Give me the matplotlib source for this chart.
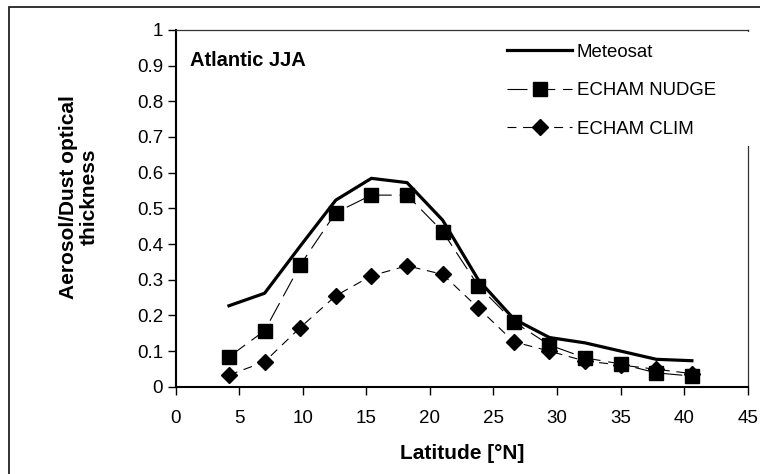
import matplotlib.pyplot as plt
from matplotlib.patches import Rectangle
from matplotlib.ticker import FormatStrFormatter, MultipleLocator

plt.rcParams['font.family'] = ['Liberation Sans', 'DejaVu Sans']

# latitude of the grid points (deg N)
lat = [4.2, 7.0, 9.8, 12.6, 15.4, 18.2, 21.0, 23.8, 26.6, 29.4, 32.2, 35.0, 37.8, 40.6]

meteosat = [0.227, 0.262, 0.394, 0.523, 0.584, 0.572, 0.467, 0.300, 0.190,
            0.138, 0.123, 0.100, 0.077, 0.073]
echam_nudge = [0.084, 0.157, 0.341, 0.488, 0.537, 0.537, 0.435, 0.283, 0.182,
               0.117, 0.081, 0.064, 0.039, 0.030]
echam_clim = [0.033, 0.070, 0.166, 0.255, 0.311, 0.339, 0.315, 0.221, 0.126,
              0.100, 0.072, 0.061, 0.049, 0.037]

fig = plt.figure(figsize=(7.6, 4.74), dpi=100)
ax = fig.add_axes([0.231, 0.184, 0.753, 0.753])

ax.plot(lat, meteosat, color='black', lw=2.3, label='Meteosat', zorder=3)
ax.plot(lat, echam_nudge, color='black', lw=0.8, dashes=(18, 7),
        marker='s', markersize=9.5, label='ECHAM NUDGE', zorder=4)
ax.plot(lat, echam_clim, color='black', lw=0.8, dashes=(8, 6),
        marker='D', markersize=8.5, label='ECHAM CLIM', zorder=4)

ax.set_xlim(0, 45)
ax.set_ylim(0, 1)
ax.xaxis.set_major_locator(MultipleLocator(5))
ax.yaxis.set_major_locator(MultipleLocator(0.1))
ax.yaxis.set_major_formatter(FormatStrFormatter('%g'))
ax.tick_params(axis='x', direction='out', length=6, width=1, pad=11, labelsize=13.5)
ax.tick_params(axis='y', direction='out', length=6, width=1, pad=3, labelsize=13.5)
ax.xaxis.set_ticks_position('bottom')
ax.yaxis.set_ticks_position('left')

for s in ['left', 'bottom']:
    ax.spines[s].set_linewidth(1.5)
for s in ['top', 'right']:
    ax.spines[s].set_linewidth(0.9)
    ax.spines[s].set_color('#333333')

ax.set_xlabel('Latitude [°N]', fontsize=15, fontweight='bold', va='center')
ax.xaxis.set_label_coords(0.5, -0.186)
ax.set_ylabel('Aerosol/Dust optical\nthickness', fontsize=15, fontweight='bold',
              va='center', linespacing=1.15)
ax.yaxis.set_label_coords(-0.169, 0.532)

ax.text(0.026, 0.913, 'Atlantic JJA', transform=ax.transAxes, fontsize=14.5,
        fontweight='bold', ha='left', va='center')

# white legend area hides the upper part of the right border
ax.add_patch(Rectangle((0.44, 0.675), 0.58, 0.318, transform=ax.transAxes,
                       facecolor='white', edgecolor='none', zorder=2.6, clip_on=False))

leg = ax.legend(loc='upper left', bbox_to_anchor=(0.58, 0.961), frameon=False,
                fontsize=13.4, handlelength=3.45, handletextpad=0.27,
                labelspacing=1.15, borderpad=0, borderaxespad=0)
leg.set_zorder(5)

# outer chart frame
fig.patches.append(Rectangle((9 / 760, -0.1), 1.2, 1 - 7 / 474 + 0.1,
                             transform=fig.transFigure, facecolor='none',
                             edgecolor='#222222', lw=1.3))

fig.savefig('out.png', dpi=100)
